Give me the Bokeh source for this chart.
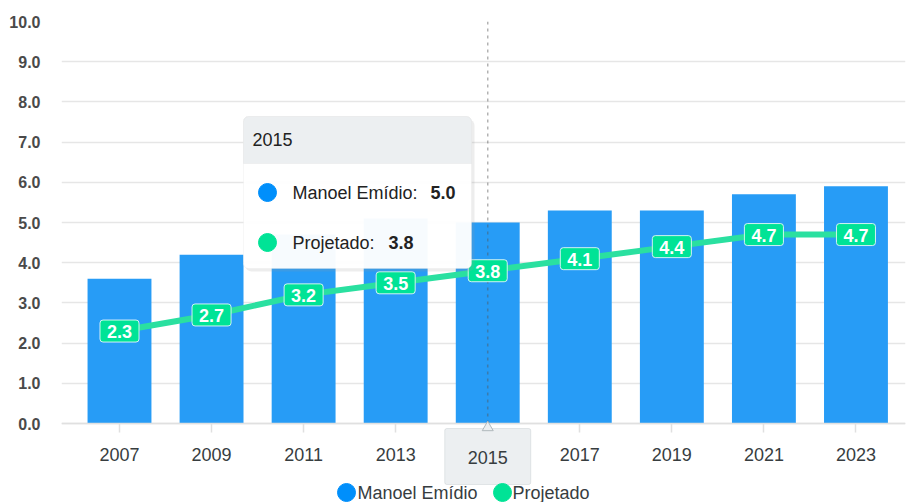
from bokeh.plotting import figure
from bokeh.models import (Range1d, FixedTicker, BoxAnnotation, Label, LinearAxis,
                          NumeralTickFormatter, ColumnDataSource)
from bokeh.core.properties import value
from bokeh.embed import file_html
from bokeh.resources import INLINE

# ---- data ----
years = ["2007", "2009", "2011", "2013", "2015", "2017", "2019", "2021", "2023"]
manoel_emidio = [3.6, 4.2, 4.7, 5.1, 5.0, 5.3, 5.3, 5.7, 5.9]
projetado = [2.3, 2.7, 3.2, 3.5, 3.8, 4.1, 4.4, 4.7, 4.7]
y_ticks = [0, 1, 2, 3, 4, 5, 6, 7, 8, 9, 10]
series_names = ["Manoel Emídio", "Projetado"]
hover_year = "2015"

BLUE = "#008FFB"
BAR_BLUE = "#279cf6"
GREEN = "#00E396"
LINE_GREEN = "#2ae0a0"
FONT = "Liberation Sans"
TXT = "#373d3f"

idx = list(range(len(years)))

# layout (page pixels): frame from x=61..905, y=21..502; value 0 at y=423
W, H = 908, 502
FL, FR, FT = 61, 905, 21
Y0_PX, PX_PER_UNIT = 423, 40.2
X_MIN, X_MAX = -0.63, 8.538
Y_MAX = 10
Y_MIN = -(H - Y0_PX) / PX_PER_UNIT

def px_x(px):
    return X_MIN + (px - FL) / (FR - FL) * (X_MAX - X_MIN)
def px_y(py):
    return (Y0_PX - py) / PX_PER_UNIT

p = figure(width=W, height=H, output_backend="svg", toolbar_location=None,
           x_range=Range1d(X_MIN, X_MAX), y_range=Range1d(Y_MIN, Y_MAX),
           x_axis_location=None,
           min_border_left=FL, min_border_right=W - FR, min_border_top=FT, min_border_bottom=0)
p.outline_line_color = None
p.xgrid.visible = False
p.ygrid.grid_line_color = "#e6e6e6"
p.ygrid.grid_line_width = 1.5
p.ygrid.ticker = FixedTicker(ticks=y_ticks)

# y axis
p.yaxis.ticker = FixedTicker(ticks=y_ticks)
p.yaxis.formatter = NumeralTickFormatter(format="0.0")
p.yaxis.axis_line_color = None
p.yaxis.major_tick_line_color = None
p.yaxis.major_tick_out = 0
p.yaxis.major_tick_in = 0
p.yaxis.minor_tick_line_color = None
p.yaxis.minor_tick_out = 0
p.yaxis.major_label_standoff = 21
p.yaxis.major_label_text_font = FONT
p.yaxis.major_label_text_font_size = "16px"
p.yaxis.major_label_text_font_style = "bold"
p.yaxis.major_label_text_color = "#4a4a4a"

# x axis, pinned at value 0 inside the extended frame
xaxis = LinearAxis(fixed_location=0, ticker=FixedTicker(ticks=idx),
                   major_label_overrides={i: y for i, y in zip(idx, years)})
xaxis.axis_line_color = "#e0e0e0"
xaxis.axis_line_width = 1.5
xaxis.major_tick_line_color = "#e0e0e0"
xaxis.major_tick_line_width = 1.5
xaxis.major_tick_out = 9
xaxis.major_tick_in = 0
xaxis.minor_tick_line_color = None
xaxis.major_label_standoff = 15
xaxis.major_label_text_font = FONT
xaxis.major_label_text_font_size = "18px"
xaxis.major_label_text_color = TXT
p.add_layout(xaxis, "below")

src = ColumnDataSource(dict(x=idx, bars=manoel_emidio, proj=projetado,
                            lab=[f"{v:.1f}" for v in projetado]))

p.vbar(x="x", top="bars", width=0.694, source=src, fill_color=BAR_BLUE, line_color=None)

hi = years.index(hover_year)
p.segment(x0=[hi], x1=[hi], y0=[0], y1=[Y_MAX], line_color="#555555", line_alpha=0.45,
          line_width=1.5, line_dash="3 4")

p.line(x="x", y="proj", source=src, line_color=LINE_GREEN, line_width=6)
p.text(x="x", y="proj", source=src, text="lab", text_align="center", text_baseline="middle",
       text_font=value(FONT), text_font_size="18px", text_font_style="bold", text_color="white",
       background_fill_color=GREEN, border_line_color="white", border_line_width=1,
       border_line_alpha=0.8, border_radius=3,
       padding=dict(left=7, right=7, top=5, bottom=4))

# ---- tooltip (static reproduction of hover state) ----
tl, tr = px_x(243), px_x(471)
tt, th, tb = px_y(116), px_y(163), px_y(268)
p.add_layout(BoxAnnotation(left=px_x(245), right=px_x(474), top=px_y(119), bottom=px_y(271),
                           fill_color="#999999", fill_alpha=0.18, line_color=None,
                           border_radius=6))
p.add_layout(BoxAnnotation(left=tl, right=tr, top=tt, bottom=tb, fill_color="white",
                           fill_alpha=0.96, line_color="#e3e3e3", line_width=1, border_radius=5))
p.add_layout(BoxAnnotation(left=tl, right=tr, top=tt, bottom=th, fill_color="#eceff1",
                           fill_alpha=1, line_color="#dddddd", line_width=1,
                           border_radius=(5, 5, 0, 0)))
p.add_layout(Label(x=px_x(252), y=px_y(139), text=hover_year, text_baseline="middle",
                   text_font=FONT, text_font_size="18px", text_color="#222222"))
rows = [(series_names[0], manoel_emidio[hi], BLUE, 192, 430),
        (series_names[1], projetado[hi], GREEN, 242, 388)]
p.scatter(x=[px_x(267)] * 2, y=[px_y(r[3]) for r in rows], color=[r[2] for r in rows],
          size=18, marker="circle", level="overlay")
for name, val, col, ypix, vx in rows:
    p.add_layout(Label(x=px_x(292), y=px_y(ypix), text=name + ":", text_baseline="middle",
                       text_font=FONT, text_font_size="18px", text_color="#222222"))
    p.add_layout(Label(x=px_x(vx), y=px_y(ypix), text=f"{val:.1f}", text_baseline="middle",
                       text_font=FONT, text_font_size="18px", text_font_style="bold",
                       text_color="#222222"))

# x-axis tooltip
p.add_layout(BoxAnnotation(left=hi - 0.467, right=hi + 0.467, top=px_y(428), bottom=px_y(484),
                           fill_color="#eceff1", fill_alpha=1, line_color="#b0b8bc",
                           line_width=1, border_radius=2))
p.scatter(x=[hi], y=[px_y(427)], marker="triangle", size=11, fill_color="#eceff1",
          line_color="#b0b8bc", level="overlay")
p.add_layout(Label(x=hi, y=px_y(457), text=hover_year, text_align="center",
                   text_baseline="middle", text_font=FONT, text_font_size="18px",
                   text_color=TXT))

# ---- legend (bottom centre) ----
leg_y = px_y(492)
leg_items = [(series_names[0], BLUE, 346, 357), (series_names[1], GREEN, 502, 512)]
p.scatter(x=[px_x(it[2]) for it in leg_items], y=[leg_y] * 2,
          color=[it[1] for it in leg_items], size=18, marker="circle", level="overlay")
for name, col, cx, tx in leg_items:
    p.add_layout(Label(x=px_x(tx), y=leg_y, text=name, text_baseline="middle",
                       text_font=FONT, text_font_size="18px", text_color=TXT))

open("out.html", "w").write(file_html(p, INLINE))
